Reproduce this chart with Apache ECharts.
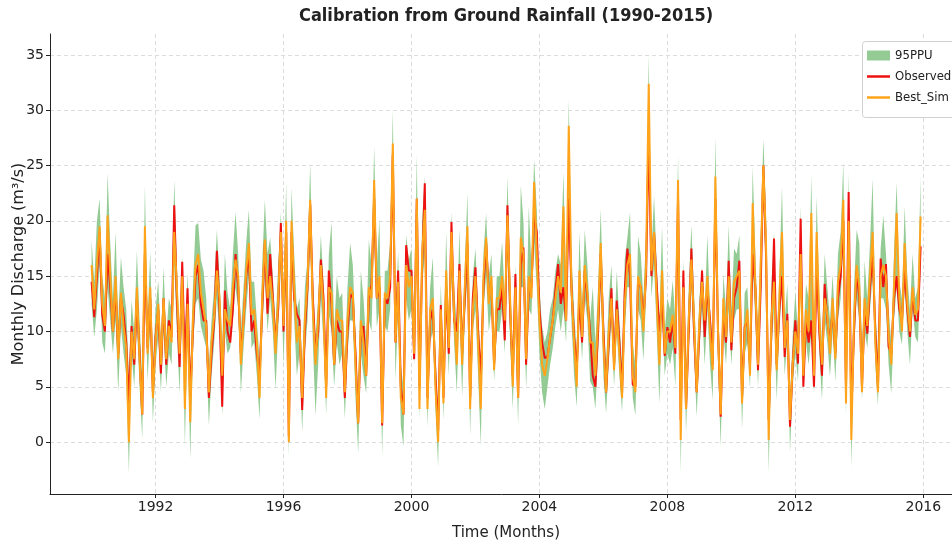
<!DOCTYPE html>
<html>
<head>
<meta charset="utf-8">
<script src="https://cdn.jsdelivr.net/npm/echarts@6/dist/echarts.min.js"></script>
<style>
html, body { margin: 0; padding: 0; background: #fff; }
#chart { width: 952px; height: 546px; }
</style>
</head>
<body>
<div id="chart"></div>
<script>
// monthly series, Jan 1990 .. Dec 2015, one row per year
var firstYear = 1990;

var observed = [].concat(
    [14.5, 11.3, 15, 19, 11.5, 10, 17, 14, 10, 14, 8, 13],
    [11.5, 9, 3.5, 10.5, 7, 13, 8, 2.5, 17, 8.5, 13, 4.5],
    [9.5, 12, 6.2, 13, 7, 11, 9.5, 21.4, 13, 6.8, 16.3, 7],
    [13.9, 4, 10, 15, 16, 12.5, 11, 11, 4, 8, 11, 17.3],
    [12, 3.2, 13.7, 10, 9, 12, 17, 14, 8, 11, 15, 17],
    [10, 11, 8, 6, 12, 18, 11.6, 17, 13, 9, 12, 19.8],
    [10, 19, 0.5, 19, 13, 11.6, 11, 2.9, 10, 14, 21.5, 13],
    [8, 10, 16.5, 13, 5, 15.5, 12.5, 7, 11, 10, 10, 4],
    [10, 13.4, 13, 8, 1.7, 10, 10.5, 6, 13, 14.2, 22, 13],
    [14, 1.5, 13, 12.5, 14, 26, 9, 15.5, 5, 2.5, 17.8, 15.5],
    [15.5, 7.5, 22, 5, 16, 23.4, 4, 11, 12, 6, 1, 12.4],
    [4, 14, 8, 19.9, 11, 10, 16.1, 8, 13, 18, 4, 13],
    [15.8, 10, 5.6, 14, 18, 13.4, 14, 7, 12, 12, 14, 9.2],
    [21.4, 12, 6, 15.2, 4, 16, 17.6, 7, 14, 14, 20.4, 19],
    [12, 9, 7.6, 7.7, 9.4, 11, 13.7, 16.1, 12.5, 14, 11, 22],
    [14, 9.5, 6.5, 13, 9, 15.5, 13, 10, 6, 5, 10, 17],
    [10, 4.5, 9, 13.9, 7, 12.8, 9, 4.5, 13.7, 17.5, 15, 5.2],
    [5, 14.6, 14, 11, 15, 28, 15, 18.9, 14.2, 10, 13, 7.8],
    [10.4, 9, 11, 8, 22, 2, 15.5, 3, 10, 17.5, 10, 4.5],
    [10, 15.5, 9.5, 14, 11, 7, 22, 10, 2.3, 12, 9, 16.4],
    [8.3, 13, 14, 16.4, 4, 10.4, 11, 7, 17, 14, 6.5, 14],
    [25, 17, 2, 10, 18.4, 7, 12, 15, 7.7, 11.6, 1.4, 7],
    [11, 7.1, 20.2, 5, 11, 9, 11, 5, 16, 10, 6, 14.3],
    [11, 9, 12, 8, 13, 15, 20, 5, 22.6, 2.5, 10, 15.5],
    [13, 5, 12, 9.8, 14, 17, 10, 5, 16.6, 14, 16.1, 8.6],
    [8, 13, 15, 12, 11, 15.5, 12, 9.5, 13.5, 11, 11, 17.7]
);

var bestSim = [].concat(
    [16, 12, 16, 19.5, 12.5, 10.5, 20.5, 15, 10, 15, 7.5, 13.5],
    [10.5, 8.5, 0, 10, 7.5, 14, 7.5, 2.5, 19.5, 8, 14, 4],
    [9, 12.5, 7, 13, 7.5, 10.5, 9, 19, 14, 8, 15, 3],
    [12.5, 1.8, 11, 16, 17, 13.5, 12, 10.5, 4.5, 9, 11.5, 15.5],
    [13, 6, 12, 11, 10.5, 14, 16.5, 15, 7, 11, 15.5, 18],
    [11.5, 12, 9, 4, 13, 18.3, 13, 15, 12.5, 8, 13, 19],
    [10.5, 20, 0, 20, 14, 9, 10.5, 4, 11, 14.5, 21.9, 12],
    [7, 11, 16, 12, 4, 14, 13.5, 7, 12, 11, 11, 4.5],
    [11, 14, 13.5, 7, 1.7, 11, 9, 6, 14, 13, 23.7, 13],
    [15, 1.7, 13.5, 13, 15, 27, 9, 14.5, 4, 2.5, 16, 14],
    [15, 8, 22, 3, 17, 21, 3, 12, 13, 5, 0, 12],
    [3.5, 15.5, 8.5, 19, 11.5, 7, 15.5, 7, 14, 19.5, 3, 12],
    [15, 9, 3, 15, 18.5, 12.5, 15, 6.5, 13, 13, 15, 11],
    [20.5, 13, 5, 14, 4, 18.5, 17, 7.5, 15, 13, 23.5, 17],
    [11, 7, 6, 7.5, 9.5, 11, 13, 15, 13.5, 21.3, 11, 28.6],
    [14, 9, 5, 15.5, 9.5, 16, 13.5, 9, 9, 6, 11, 18],
    [9, 4.5, 10, 13, 6.5, 12, 8, 4, 12.5, 16, 17, 6],
    [4.5, 15, 14, 10, 16, 32.4, 15.5, 19, 13, 7, 15.5, 8],
    [10, 10, 11.5, 8.5, 23.7, 0.2, 14, 3, 11, 16.5, 11, 4.5],
    [11, 14.5, 11, 15, 10, 6.5, 24, 10, 2.5, 13, 9.5, 15],
    [9, 14.5, 15, 15.5, 3.5, 10, 12, 6, 21.6, 14, 7, 16],
    [25, 18, 0.2, 11, 14.5, 6.5, 13, 19, 8.5, 11, 2, 7],
    [10, 8, 17, 6, 12, 10, 20.7, 6, 19, 11, 7, 13],
    [11.5, 8, 13, 7.5, 14.5, 16, 21.9, 3.5, 20, 0.2, 11, 16],
    [14, 4.5, 13, 10.5, 15, 19, 9, 4.5, 15, 16, 15, 9.5],
    [7, 14, 20.7, 13, 10, 18, 12.5, 10, 14, 11.5, 12, 20.4]
);

// 95PPU lower / upper bounds
var ppuLower = [].concat(
    [12.5, 9.5, 12, 16, 9, 8, 14, 11, 8, 11, 4.5, 10.5],
    [8, 6, -2.8, 8, 5, 10.5, 5, 0.3, 14, 5.6, 10.5, 1.8],
    [7, 9.5, 4.5, 10, 5, 8, 7, 16, 10, 4.4, 12.5, -0.3],
    [10, -1.5, 8, 12.5, 13, 10.5, 9.5, 8.5, 1.5, 6, 9, 13],
    [9.5, 2.4, 10, 8, 8.5, 11, 14, 12, 4.4, 8.5, 12, 15],
    [8.5, 9, 6, 2.1, 10, 15, 10, 13, 10, 4.8, 10, 16],
    [7, 15, -1.3, 16, 11, 6, 8, 0.9, 8, 11, 18, 9],
    [2.4, 7, 13, 9, 2.5, 11.5, 10, 5, 9, 7, 8, 2.1],
    [8, 11, 11, 4, -1, 8, 6, 4.4, 11, 10, 19, 10.4],
    [12, -1.2, 10.5, 10, 12, 23, 5.6, 12, 1.5, -0.4, 13, 11],
    [12, 7, 18, 2, 14, 17, 1.4, 9, 10, 3, -2.2, 10],
    [2, 12, 6, 15, 9, 4.5, 12, 4.1, 11, 15, 0.6, 10],
    [12, 6, -0.3, 12, 15, 10, 12, 5.5, 10, 10, 12, 8],
    [17, 9, 3, 11, 1.5, 14, 14, 4.8, 12, 11.5, 18, 14],
    [8, 4.5, 3, 5, 7, 8.5, 10.5, 12, 10, 12, 9, 20],
    [11, 6, 3.2, 12, 7.4, 13, 11, 5.5, 5, 3, 8, 14],
    [6, 2.6, 7, 11, 5, 10, 6, 2.7, 10, 14, 14, 4],
    [2.4, 12, 11, 7.4, 13, 26, 13.1, 16, 10, 3.5, 12, 6],
    [8, 7, 8.5, 5, 20, -2.8, 12, 0.8, 8, 14, 8, 2.3],
    [8, 12, 7, 12, 7, 3.8, 20, 7, -0.4, 10, 7, 12],
    [7, 11, 12, 12, 1.2, 8, 9, 4.8, 16, 11, 5, 12],
    [22, 15, -2.7, 8, 12, 3.8, 10, 14, 6, 9.5, -0.9, 5],
    [8, 5.5, 15, 4.5, 9, 7, 10, 4.5, 15, 8, 3.8, 11],
    [9, 5.9, 10, 5.5, 11, 13, 18, 2.4, 17, -2.2, 8, 13],
    [11, 3.9, 10, 8.5, 12, 15, 7, 3.3, 13, 13, 12, 7],
    [4.4, 11, 14, 10, 8.8, 14, 10, 7, 12, 9.5, 9, 16]
);

var ppuUpper = [].concat(
    [18.3, 14.5, 20, 22, 15, 13, 24.3, 18, 13, 19, 11, 16.7],
    [14, 12, 6, 12.8, 10, 17.3, 11, 5.5, 23.2, 11, 17.2, 7],
    [12, 14.6, 9, 15.8, 9.5, 13, 12, 23.7, 16, 9.5, 16.8, 9],
    [15.3, 6, 14, 19.6, 19.8, 16.5, 15.5, 13, 7, 11, 14, 19.2],
    [15, 8.5, 17, 13.5, 12, 17, 20.8, 17, 10, 14, 18, 21],
    [14.5, 14.5, 11, 7.5, 16, 21.9, 17, 18.5, 15, 10.5, 16, 20.8],
    [13, 23.5, 3, 23, 17, 12, 13, 6.5, 14, 16.5, 25.2, 15],
    [9.5, 13, 18.7, 14.5, 7, 17, 19.9, 10, 15, 13, 13.5, 7],
    [14, 18, 16, 10, 4, 15.5, 13, 9, 18.3, 16, 26.7, 16],
    [20.2, 4, 15.5, 15.5, 18, 30, 11.5, 17.3, 7, 5, 18.7, 16.5],
    [17.5, 11, 26, 7, 20, 24, 7, 14, 16.7, 8, 3, 14.3],
    [7, 19, 10.5, 20.8, 14, 10.5, 19.3, 9.5, 16, 22.5, 6.5, 15],
    [17.5, 12, 7, 17, 20.7, 15, 17, 9, 15, 15, 18.1, 13],
    [24, 15, 8, 16, 6.5, 23.2, 20, 10, 21.3, 16, 25.6, 21],
    [14, 10.5, 9, 10, 12, 13, 15.5, 17, 16, 24.4, 14, 31],
    [17, 12, 8, 19, 12, 19.2, 16, 11, 14, 9, 14, 21.1],
    [12, 7, 13, 16, 9, 15.5, 11, 7, 16.5, 18.5, 20.8, 9],
    [7, 18.6, 17, 13, 19, 35, 17, 22.3, 16, 11, 19.5, 10],
    [13, 12, 14.6, 11, 26, 4, 16.5, 6, 14, 19.6, 13.5, 7],
    [13, 15.8, 12, 18.7, 12, 9, 27.6, 13, 5, 15.2, 12, 19.6],
    [12, 17.5, 17, 18.7, 6, 13.5, 14, 9, 24.9, 17, 10, 19],
    [27.4, 21, 4, 14, 19, 9, 15, 23.1, 11, 14.3, 4, 9.5],
    [13.6, 10, 21.3, 9, 14.3, 13, 24.1, 9, 22.2, 13, 9, 17],
    [14, 11, 15.2, 10, 17, 19, 25.3, 7, 24.4, 4, 14, 19.2],
    [18, 8, 16.4, 13, 18, 23.8, 12, 8, 17.5, 20.5, 17, 12],
    [9, 17, 23.5, 14.5, 13, 21.3, 15, 12, 17, 13, 14, 24.1]
);

var xTicks = [1992, 1996, 2000, 2004, 2008, 2012, 2016];
var yTicks = [0, 5, 10, 15, 20, 25, 30, 35];

// month index -> decimal year
function monthX(i) {
    return firstYear + i / 12;
}
function toPoints(values) {
    return values.map(function (v, i) {
        return [monthX(i), v];
    });
}
var ppuRows = ppuLower.map(function (v, i) {
    return [monthX(i), v, ppuUpper[i]];
});

var font = 'DejaVu Sans';
var condensed = '"DejaVu Sans Condensed", "DejaVu Sans"';
var gridLine = { show: true, lineStyle: { color: '#dcdcdc', type: [4, 3], width: 1 } };
var bandColor = '#94cb94';

var option = {
    backgroundColor: '#fff',
    animation: false,
    graphic: [
        {
            type: 'text',
            left: 299,
            top: 7,
            style: {
                text: 'Calibration from Ground Rainfall (1990-2015)',
                font: 'bold 18px ' + condensed,
                fill: '#222'
            }
        },
        {
            type: 'rect',
            z: 5,
            shape: { x: 862.5, y: 41.5, width: 110, height: 76, r: 3 },
            style: { fill: '#fff', stroke: '#d0d0d0', lineWidth: 1 }
        }
    ],
    legend: [
        {
            z: 10,
            orient: 'vertical',
            left: 867,
            top: 49,
            padding: 0,
            itemWidth: 23,
            itemHeight: 10,
            itemGap: 7,
            textStyle: { fontFamily: condensed, fontSize: 13, color: '#222' },
            data: [{ name: '95PPU', icon: 'rect' }]
        },
        {
            z: 10,
            orient: 'vertical',
            left: 867,
            top: 70,
            padding: 0,
            itemWidth: 23,
            itemHeight: 2.5,
            itemGap: 8,
            icon: 'rect',
            textStyle: { fontFamily: condensed, fontSize: 13, color: '#222' },
            data: ['Observed', 'Best_Sim']
        }
    ],
    grid: { left: 50, top: 34, width: 912, bottom: 52, outerBoundsMode: 'none' },
    xAxis: {
        type: 'value',
        min: 1988.7,
        max: 2017.21,
        name: 'Time (Months)',
        nameLocation: 'middle',
        nameGap: 32,
        nameMoveOverlap: false,
        nameTextStyle: { fontFamily: font, fontSize: 15, color: '#222' },
        axisLine: { onZero: false, lineStyle: { color: '#222', width: 1 } },
        axisTick: { customValues: xTicks, length: 4, lineStyle: { color: '#222' } },
        axisLabel: {
            customValues: xTicks, fontFamily: font, fontSize: 14, color: '#222', margin: 6,
            formatter: function (v) { return String(v); }
        },
        splitLine: gridLine
    },
    yAxis: {
        type: 'value',
        min: -4.69,
        max: 36.89,
        name: 'Monthly Discharge (m³/s)',
        nameLocation: 'middle',
        nameGap: 23,
        nameMoveOverlap: false,
        nameTextStyle: { fontFamily: font, fontSize: 16, color: '#222' },
        axisLine: { show: true, onZero: false, lineStyle: { color: '#222', width: 1 } },
        axisTick: { show: true, customValues: yTicks, length: 4, lineStyle: { color: '#222' } },
        axisLabel: { customValues: yTicks, fontFamily: font, fontSize: 14, color: '#222', margin: 6 },
        splitLine: gridLine
    },
    series: [
        {
            name: '95PPU',
            type: 'custom',
            data: ppuRows,
            encode: { x: 0, y: [1, 2] },
            itemStyle: { color: bandColor },
            silent: true,
            // whole band as one polygon: upper edge forward, lower edge back
            renderItem: function (params, api) {
                if (params.dataIndex !== 0) {
                    return null;
                }
                var top = [];
                var bottom = [];
                for (var i = 0; i < ppuRows.length; i++) {
                    top.push(api.coord([ppuRows[i][0], ppuRows[i][2]]));
                    bottom.unshift(api.coord([ppuRows[i][0], ppuRows[i][1]]));
                }
                return {
                    type: 'polygon',
                    shape: { points: top.concat(bottom) },
                    style: { fill: bandColor }
                };
            }
        },
        {
            name: 'Observed',
            type: 'line',
            data: toPoints(observed),
            symbol: 'none',
            color: '#ee1111',
            lineStyle: { color: '#ee1111', width: 2 }
        },
        {
            name: 'Best_Sim',
            type: 'line',
            data: toPoints(bestSim),
            symbol: 'none',
            color: '#ffa41a',
            lineStyle: { color: '#ffa41a', width: 2 }
        }
    ]
};

var chart = echarts.init(document.getElementById('chart'));
chart.setOption(option);
</script>
</body>
</html>
